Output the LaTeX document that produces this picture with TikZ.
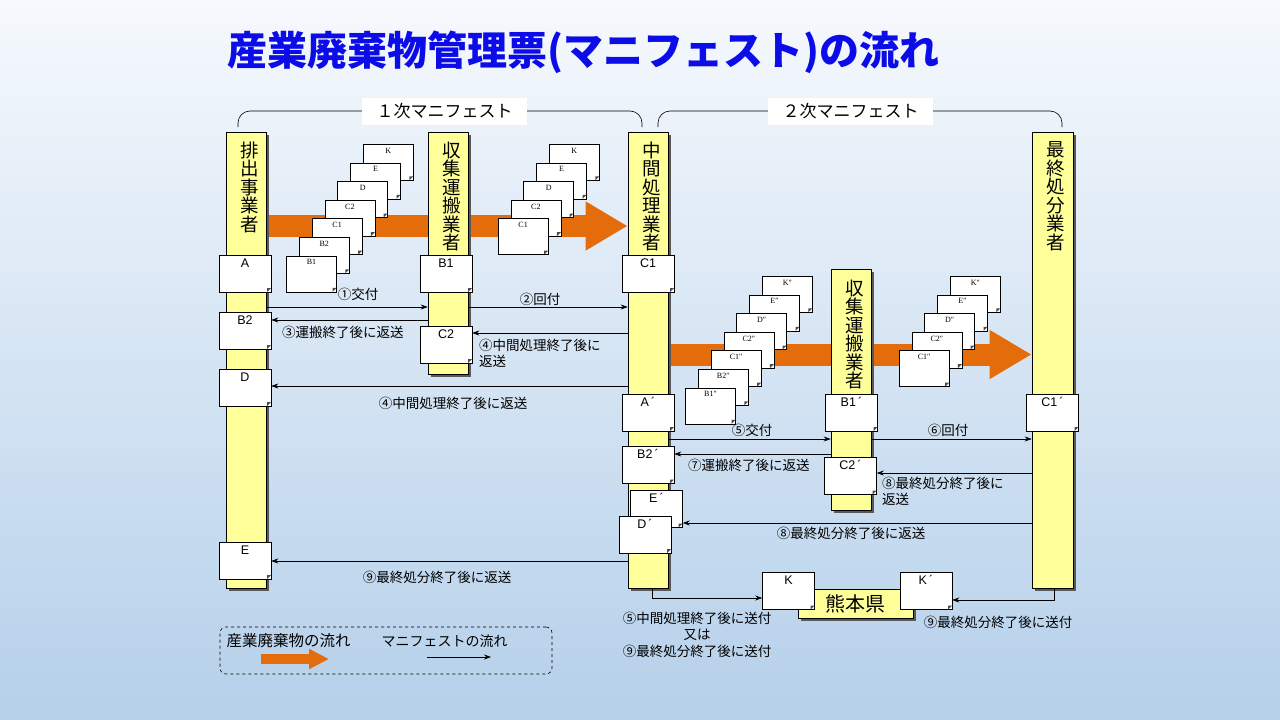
\documentclass[tikz,border=0pt]{standalone}
\usepackage{fontspec}
\setmainfont{Noto Sans CJK JP}
\newfontfamily\latinfont{Liberation Sans}
\newfontfamily\docfont{Liberation Serif}
\usetikzlibrary{
    arrows.meta,
    positioning,
    shadows
}
\pgfdeclarelayer{bg}
\pgfsetlayers{bg,main}
\definecolor{lifeyellow}{RGB}{255,255,153}
\definecolor{wasteorange}{RGB}{228,108,10}
\definecolor{titleblue}{RGB}{12,12,232}
\definecolor{bgtop}{RGB}{246,249,253}
\definecolor{bgbot}{RGB}{181,208,234}
\tikzset{
    lifeline/.style={
        draw,
        rectangle,
        minimum width=40,
        line width=0.6pt,
        fill=lifeyellow,
        drop shadow={shadow xshift=3pt, shadow yshift=-3pt, fill=black!65, opacity=1}
    },
    vtext/.style={
        align=center,
        inner sep=0pt,
        font=\fontsize{18.5}{18.5}\selectfont
    },
    doc/.style={
        draw,
        rectangle,
        minimum width=52,
        minimum height=37,
        inner xsep=1pt,
        inner ysep=2pt,
        text height=10pt,
        text depth=23pt,
        line width=0.6pt,
        fill=white,
        font=\latinfont\fontsize{12.5}{12.5}\selectfont,
        path picture={
            \fill[black!70] ([xshift=-4pt]path picture bounding box.south east)
                -- ([xshift=-4pt,yshift=4pt]path picture bounding box.south east)
                -- ([yshift=4pt]path picture bounding box.south east) -- cycle;
        }
    },
    minidoc/.style={
        doc,
        anchor=north west,
        minimum width=50,
        minimum height=36,
        text height=7pt,
        text depth=25pt,
        font=\docfont\fontsize{8}{8}\selectfont
    },
    lab/.style={
        inner sep=0pt,
        font=\fontsize{13.5}{16.5}\selectfont
    },
    mani/.style={
        -{Stealth[length=7pt,width=5pt]},
        line width=0.6pt
    },
    waste/.style={
        draw=wasteorange,
        line width=22pt,
        -{Triangle[length=42pt,width=46pt]}
    }
}

\begin{document}
\begin{tikzpicture}[
    x=1pt, y=-1pt,
    headline/.style={
        inner sep=0pt,
        text=titleblue,
        font=\bfseries\fontsize{40}{40}\selectfont
    },
    phasetag/.style={
        fill=white,
        inner sep=0pt,
        minimum width=165,
        minimum height=27,
        font=\fontsize{17}{17}\selectfont
    },
    bracket/.style={
        rounded corners=12pt,
        line width=0.6pt
    },
    pref/.style={
        lifeline,
        minimum width=115,
        minimum height=29,
        font=\fontsize{20}{20}\selectfont
    },
    legendbox/.style={
        draw,
        dashed,
        rounded corners=6pt,
        minimum width=332,
        minimum height=47,
        line width=0.6pt
    }
]

\useasboundingbox (0,0) rectangle (1280,720);
\begin{pgfonlayer}{bg}
\fill[top color=bgtop, bottom color=bgbot] (0,0) rectangle (1280,720);
\end{pgfonlayer}

\node[headline] (ttl) at (583,52) {産業廃棄物管理票(マニフェスト)の流れ};

\draw[bracket] (238,127) -- (238,111) -- (642,111) -- (642,127);
\draw[bracket] (658,127) -- (658,111) -- (1062,111) -- (1062,127);
\node[phasetag] (first) at (444.5,111) {１次マニフェスト};
\node[phasetag] (second) at (850.5,111) {２次マニフェスト};

\node[lifeline, minimum height=456] (emit) at (246,360) {};
\node[lifeline, minimum height=242] (coll) at (448,253) {};
\node[lifeline, minimum height=456] (mid) at (648,360) {};
\node[lifeline, minimum height=456, minimum width=41] (fin) at (1052.5,360) {};
\node[lifeline, minimum height=241] (colltwo) at (851,389.5) {};

\node[vtext, below=10pt of emit.north, xshift=3.5pt] (emitT) {排\\出\\事\\業\\者};
\node[vtext, below=10pt of coll.north, xshift=3.5pt] (collT) {収\\集\\運\\搬\\業\\者};
\node[vtext, below=10pt of mid.north, xshift=3.5pt] (midT) {中\\間\\処\\理\\業\\者};
\node[vtext, below=10pt of fin.north, xshift=3.5pt] (finT) {最\\終\\処\\分\\業\\者};
\node[vtext, below=11pt of colltwo.north, xshift=3.5pt] (colltwoT) {収\\集\\運\\搬\\業\\者};

\begin{pgfonlayer}{bg}
\draw[waste] (emit.east |- 0,226) -- (mid.west |- 0,226);
\draw[waste] (mid.east |- 0,354.5) -- (fin.west |- 0,354.5);
\end{pgfonlayer}

\foreach \lab [count=\i from 0] in {K,E,D,C2,C1,B2,B1}
    \node[minidoc] (sa\i) at ({363-12.8*\i},{144+18.6*\i}) {\lab};
\foreach \lab [count=\i from 0] in {K,E,D,C2,C1}
    \node[minidoc] (sb\i) at ({549-12.8*\i},{144+18.6*\i}) {\lab};
\foreach \lab [count=\i from 0] in {K″,E″,D″,C2″,C1″,B2″,B1″}
    \node[minidoc] (sc\i) at ({762-12.8*\i},{276+18.6*\i}) {\lab};
\foreach \lab [count=\i from 0] in {K″,E″,D″,C2″,C1″}
    \node[minidoc] (sd\i) at ({950-12.8*\i},{276+18.6*\i}) {\lab};

\node[doc] (A) at (245,273.5) {A};
\node[doc] (B2) at (245,330.5) {B2};
\node[doc] (D) at (245,387.5) {D};
\node[doc] (E) at (245,560.5) {E};
\node[doc] (B1) at (446,273.5) {B1};
\node[doc] (C2) at (446,344.5) {C2};
\node[doc] (C1) at (648,273.5) {C1};
\node[doc] (Ap) at (648,412.5) {A\,´};
\node[doc] (B2p) at (648,465) {B2\,´};
\node[doc] (Ep) at (656.5,509) {E\,´};
\node[doc] (Dp) at (645,534.5) {D\,´};
\node[doc] (B1p) at (851.5,412.5) {B1\,´};
\node[doc] (C2p) at (850.5,476) {C2\,´};
\node[doc] (C1p) at (1052.5,412.5) {C1\,´};
\node[pref] (kuma) at (855.5,603.5) {熊本県};
\node[doc] (K) at (788.5,591) {K};
\node[doc] (Kp) at (926,591) {K\,´};

\draw[mani] (emit.east |- 0,307) -- (coll.west |- 0,307);
\draw[mani] (coll.east |- 0,307) -- (mid.west |- 0,307);
\draw[mani] (coll.west |- 0,320) -- (B2.east |- 0,320);
\draw[mani] (mid.west |- 0,333) -- (C2.east |- 0,333);
\draw[mani] (mid.west |- 0,386) -- (D.east |- 0,386);
\draw[mani] (mid.east |- 0,439) -- (colltwo.west |- 0,439);
\draw[mani] (colltwo.east |- 0,439) -- (fin.west |- 0,439);
\draw[mani] (colltwo.west |- 0,454) -- (B2p.east |- 0,454);
\draw[mani] (fin.west |- 0,473) -- (C2p.east |- 0,473);
\draw[mani] (fin.west |- 0,523) -- (Ep.east |- 0,523);
\draw[mani] (mid.west |- 0,561) -- (E.east |- 0,561);
\draw[mani] ([xshift=4pt]mid.south) |- (K.west |- 0,598);
\draw[mani] ([xshift=1.5pt]fin.south) |- (Kp.east |- 0,600);

\node[lab] (l1) at (358,294) {①交付};
\node[lab] (l2) at (540,299) {②回付};
\node[lab, anchor=west] (l3) at (282,332) {③運搬終了後に返送};
\node[lab, anchor=west, align=left] (l4a) at (479,353.5) {④中間処理終了後に\\返送};
\node[lab] (l4b) at (453,403) {④中間処理終了後に返送};
\node[lab] (l5) at (752,430) {⑤交付};
\node[lab] (l6) at (948,430) {⑥回付};
\node[lab, anchor=west] (l7) at (688,465) {⑦運搬終了後に返送};
\node[lab, anchor=west, align=left] (l8a) at (882,491.5) {⑧最終処分終了後に\\返送};
\node[lab] (l8b) at (851,533) {⑧最終処分終了後に返送};
\node[lab] (l9) at (437,577) {⑨最終処分終了後に返送};
\node[lab, align=center] (l59) at (697,634.5) {⑤中間処理終了後に送付\\又は\\⑨最終処分終了後に送付};
\node[lab] (l9k) at (998,622) {⑨最終処分終了後に送付};

\node[legendbox] (legend) at (386,650.5) {};
\node[lab, font=\fontsize{15.5}{15.5}\selectfont] (legW) at (288.5,641) {産業廃棄物の流れ};
\node[lab, font=\fontsize{14}{14}\selectfont] (legM) at (444.5,641) {マニフェストの流れ};
\coordinate (wS) at (261,659);
\coordinate (wE) at (329,659);
\draw[waste, line width=10pt, -{Triangle[length=20pt,width=19pt]}] (wS) -- (wE);
\coordinate (mS) at (427,657);
\coordinate (mE) at (491,657);
\draw[mani] (mS) -- (mE);

\end{tikzpicture}
\end{document}
